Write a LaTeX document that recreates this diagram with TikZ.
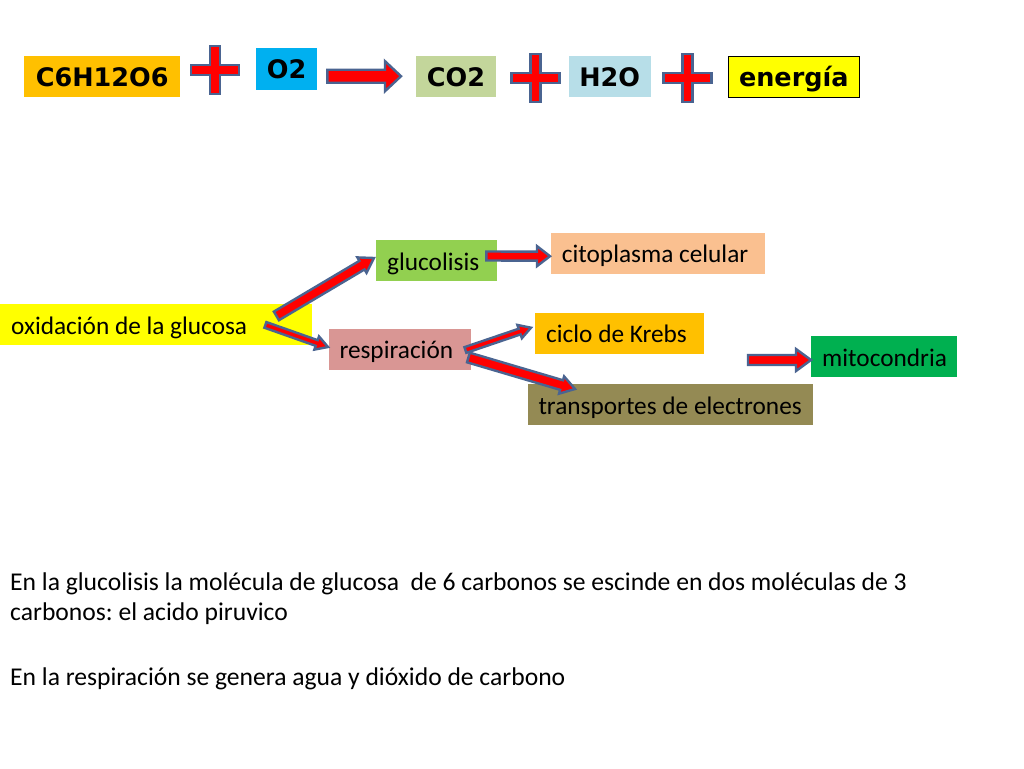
\documentclass[tikz,border=0pt]{standalone}
\usepackage{fontspec}
\setmainfont{Carlito}
\newfontfamily\verd{DejaVu Sans}
\usetikzlibrary{calc}
\frenchspacing
\definecolor{arrowred}{HTML}{FF0000}
\definecolor{arrowblue}{HTML}{4A6491}
\definecolor{corange}{HTML}{FFC000}
\definecolor{cblue}{HTML}{00B0F0}
\definecolor{cco}{HTML}{C3D69B}
\definecolor{cwater}{HTML}{B7DEE8}
\definecolor{cyel}{HTML}{FFFF00}
\definecolor{cgluc}{HTML}{92D050}
\definecolor{ccito}{HTML}{FAC090}
\definecolor{cresp}{HTML}{D99694}
\definecolor{cmito}{HTML}{00B050}
\definecolor{ctrans}{HTML}{948A54}
\tikzset{
  lbox/.style={rectangle, inner xsep=11pt, inner ysep=0pt, minimum height=41pt,
    align=flush left, anchor=north west, text height=21pt, text depth=2pt,
    font=\frenchspacing\fontsize{25.3}{30}\selectfont, text=black},
  tbox/.style={rectangle, inner sep=0pt, minimum height=41pt, anchor=north west,
    text height=21pt, text depth=2pt,
    font=\verd\bfseries\fontsize{25.5}{30}\selectfont, text=black},
  barrow/.style={fill=arrowred, draw=arrowblue, line width=2.4pt, line join=miter},
  para/.style={anchor=base west, inner sep=0pt, font=\frenchspacing\fontsize{25.6}{30}\selectfont, text=black},
}
\newcommand\blockarr[5]{%
  \coordinate (#1-#2-h) at ($(#2)!#5!(#1)$);
  \draw[barrow] ($(#1)!#3!90:(#2)$) -- ($(#1-#2-h)!#3!90:(#2)$) -- ($(#1-#2-h)!#4!90:(#2)$)
    -- (#2) -- ($(#1-#2-h)!#4!-90:(#2)$) -- ($(#1-#2-h)!#3!-90:(#2)$) -- ($(#1)!#3!-90:(#2)$) -- cycle;}
\newcommand\plusmark[2]{%
  \draw[barrow, shift={(#1,#2)}] (-5,-24) -- (5,-24) -- (5,-5) -- (24,-5) -- (24,5) -- (5,5)
    -- (5,24) -- (-5,24) -- (-5,5) -- (-24,5) -- (-24,-5) -- (-5,-5) -- cycle;}
\begin{document}
\begin{tikzpicture}[x=1pt,y=-1pt]
\useasboundingbox[fill=white] (0,0) rectangle (1024,768);
% top row
\node[tbox, fill=corange, minimum width=156pt] (glc) at (24,56) {C6H12O6};
\node[tbox, fill=cblue, minimum width=60.7pt] (o2) at (256,48.3) {O2};
\node[tbox, fill=cco, minimum width=79.7pt] (co2) at (416,56) {CO2};
\node[tbox, fill=cwater, minimum width=82.4pt] (h2o) at (568.3,56) {H2O};
\node[tbox, fill=cyel, draw=black, line width=1.2pt, minimum width=131pt] (en) at (727.7,56) {energía};
\plusmark{215}{70}
\plusmark{535.5}{78}
\plusmark{687.5}{78}
\coordinate (t1) at ($(o2.east)+(10.3,7.2)$);
\coordinate (t2) at ($(co2.west)+(-15,-0.5)$);
\blockarr{t1}{t2}{6.5pt}{15pt}{16pt}
% lower diagram
\node[lbox, fill=cgluc, text width=98.7pt] (gluc) at (376,240) {\mbox{glucolisis}};
\node[lbox, fill=ccito, text width=192.3pt] (cito) at (550.7,232.3) {\mbox{citoplasma celular}};
\node[lbox, fill=cyel, text width=289.7pt] (oxid) at (0,304) {\mbox{oxidación de la glucosa}};
\node[lbox, fill=cresp, text width=120.4pt] (resp) at (328.3,328.3) {\mbox{respiración}};
\node[lbox, fill=corange, text width=146.3pt] (ciclo) at (535,312.3) {\mbox{ciclo de Krebs}};
\node[lbox, fill=cmito, text width=124pt] (mito) at (811,336) {\mbox{mitocondria}};
\node[lbox, fill=ctrans, text width=263.4pt] (trans) at (527.3,384) {\mbox{transportes de electrones}};
% arrows
\coordinate (a1s) at ($(oxid.east)+(-35.7,-8.8)$);
\coordinate (a1e) at ($(gluc.west)+(-2,-2.7)$);
\blockarr{a1s}{a1e}{5pt}{9pt}{14pt}
\coordinate (a2s) at ($(oxid.east)+(-46.7,0.2)$);
\coordinate (a2e) at ($(resp.west)+(-0.3,-2)$);
\blockarr{a2s}{a2e}{3pt}{7pt}{12pt}
\coordinate (a3s) at ($(gluc.east)+(-10.7,-4.7)$);
\coordinate (a3e) at ($(cito.west)+(-0.7,3.2)$);
\blockarr{a3s}{a3e}{4.5pt}{10pt}{13pt}
\coordinate (a4s) at ($(resp.east)+(-5.7,1)$);
\coordinate (a4e) at ($(ciclo.west)+(-4,-5.3)$);
\blockarr{a4s}{a4e}{3pt}{7pt}{12pt}
\coordinate (a5s) at ($(resp.east)+(-2.7,8.5)$);
\coordinate (a5e) at ($(trans.north west)+(47.7,5)$);
\blockarr{a5s}{a5e}{5pt}{9pt}{14pt}
\coordinate (m0) at (748,360);
\coordinate (a6e) at ($(mito.west)+(0,3.3)$);
\blockarr{m0}{a6e}{5pt}{11pt}{15pt}
% paragraph
\node[para] (p1) at (10,590) {En la glucolisis la molécula de glucosa\ \ de 6 carbonos se escinde en dos moléculas de 3};
\node[para] (p2) at (10,620) {carbonos: el acido piruvico};
\node[para] (p3) at (10,685) {En la respiración se genera agua y dióxido de carbono};
\end{tikzpicture}
\end{document}
